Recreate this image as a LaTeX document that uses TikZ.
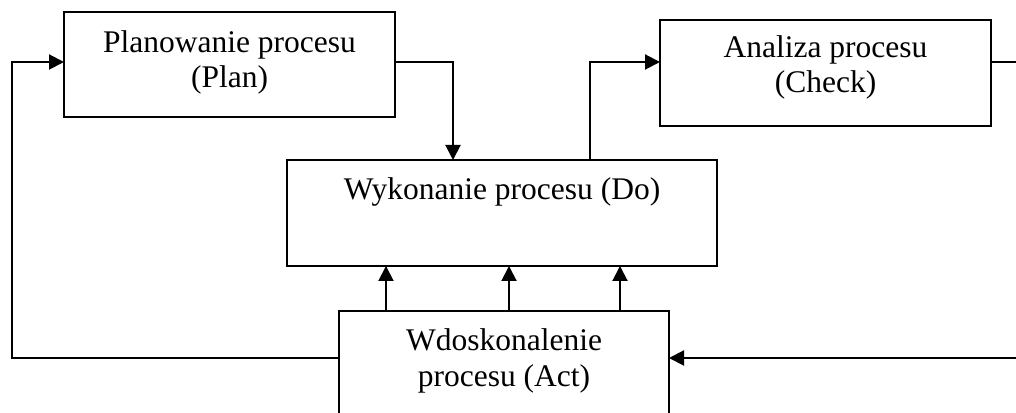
\documentclass[tikz,border=0pt]{standalone}
\usepackage{fontspec}
\setmainfont{Liberation Serif}
\usetikzlibrary{arrows.meta}
\begin{document}
\begin{tikzpicture}[x=1pt,y=1pt,
  box/.style={draw=black, line width=2pt, rectangle, inner sep=0pt, outer sep=0pt, fill=white},
  txt/.style={align=center, inner sep=0pt, font={\fontsize{31.5}{35.5}\selectfont}},
  conn/.style={draw=black, line width=2pt},
  arr/.style={conn, -{Triangle[length=15pt,width=15pt]}}]
\useasboundingbox (0,0) rectangle (1016,412);
\clip (0,0) rectangle (1016,412);
% boxes
\node[box, minimum width=331pt, minimum height=105pt] (plan) at (229.5,347.5) {};
\node[box, minimum width=331pt, minimum height=106pt] (check) at (825.5,339) {};
\node[box, minimum width=430pt, minimum height=106pt] (do) at (502,199) {};
\node[box, minimum width=330pt, minimum height=119pt] (act) at (504,41.5) {};
% texts (base anchor = baseline of last line)
\node[txt, anchor=base] (planT) at (229.5,324) {Planowanie procesu\\(Plan)};
\node[txt, anchor=base] (checkT) at (825.5,319) {Analiza procesu\\(Check)};
\node[txt, anchor=base] (doT) at (502,212) {Wykonanie procesu (Do)};
\node[txt, anchor=base] (actT) at (504,26) {Wdoskonalenie\\procesu (Act)};
% free ends and corners
\coordinate (rtop) at (1016,350);
\coordinate (rbot) at (1016,54);
\coordinate (lc) at (12,350);
% connectors
\draw[arr] (plan.east |- 0,350) -| (do.north -| 453,0);
\draw[arr] (do.north -| 590,0) |- (check.west |- 0,350);
\draw[conn] (check.east |- rtop) -- (rtop);
\draw[arr] (rbot) -- (act.east |- rbot);
\draw[arr] (act.west |- rbot) -| (lc) -- (plan.west |- lc);
\draw[arr] (act.north -| 386,0) -- (do.south -| 386,0);
\draw[arr] (act.north -| 509,0) -- (do.south -| 509,0);
\draw[arr] (act.north -| 620,0) -- (do.south -| 620,0);
\end{tikzpicture}
\end{document}
